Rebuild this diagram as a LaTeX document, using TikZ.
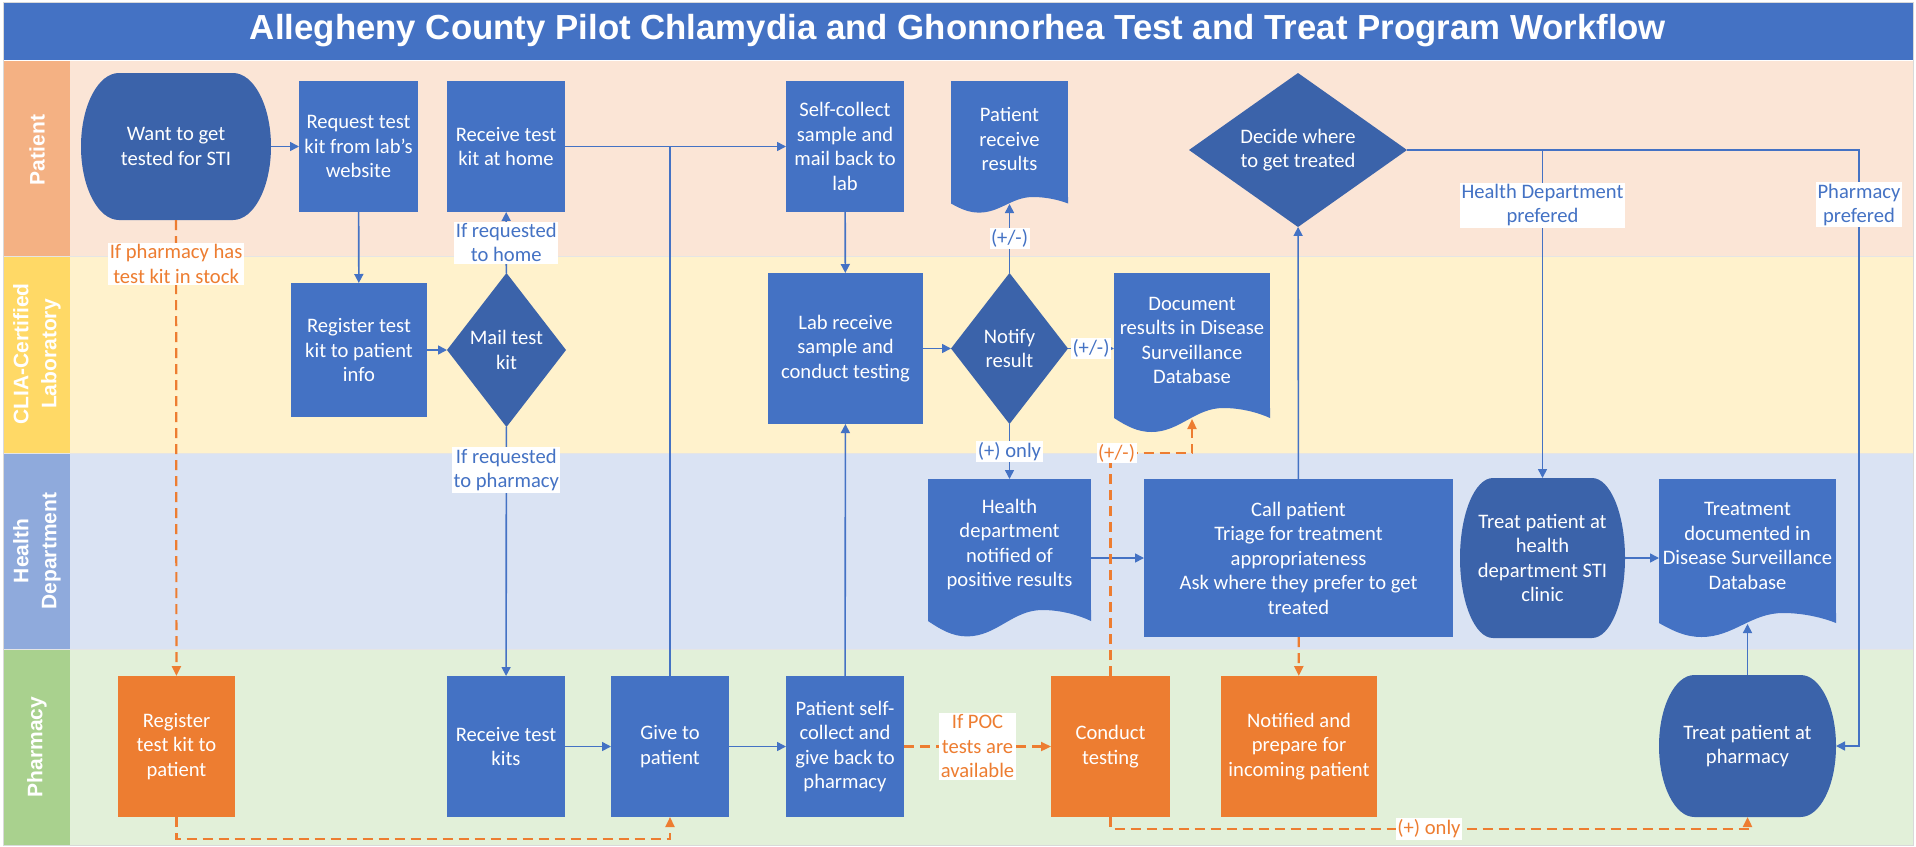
\documentclass[tikz,border=0pt]{standalone}
\usepackage{fontspec}
\setmainfont{Carlito}
\newfontfamily\headfont{Liberation Sans}
\usetikzlibrary{arrows.meta,shapes.geometric,calc}
\definecolor{boxblue}{HTML}{4472C4}
\definecolor{darkblue}{HTML}{3B63AA}
\definecolor{boxorange}{HTML}{ED7D31}
\definecolor{ptlane}{HTML}{FBE5D6}
\definecolor{ptlabel}{HTML}{F4B183}
\definecolor{lablane}{HTML}{FFF2CC}
\definecolor{lablabel}{HTML}{FFD966}
\definecolor{hdlane}{HTML}{DAE3F3}
\definecolor{hdlabel}{HTML}{8FAADC}
\definecolor{phlane}{HTML}{E2F0D9}
\definecolor{phlabel}{HTML}{A9D18E}
\tikzset{
    base/.style = {text=white, align=center, inner sep=0pt, outer sep=0pt,
        font=\fontsize{20.6}{24.5}\selectfont},
    box/.style = {base, rectangle, fill=boxblue},
    obox/.style = {base, rectangle, fill=boxorange},
    decision/.style = {base, diamond, fill=darkblue},
    doc/.style = {base, rectangle, fill=boxblue},
    term/.style = {base, rectangle, path picture={
        \fill[darkblue] let \p1 = (path picture bounding box.south west),
                            \p2 = (path picture bounding box.north east),
                            \n1 = {0.2*(\x2-\x1)}, \n2 = {0.5*(\y2-\y1)} in
            (\x1+\n1,\y2) -- (\x2-\n1,\y2)
            arc[start angle=90, end angle=-90, x radius=\n1*1pt, y radius=\n2*1pt]
            -- (\x1+\n1,\y1)
            arc[start angle=270, end angle=90, x radius=\n1*1pt, y radius=\n2*1pt] -- cycle;}},
    lanetxt/.style = {rotate=90, text=white, align=center,
        font=\headfont\bfseries\fontsize{21}{28}\selectfont},
    flow/.style = {draw=boxblue, line width=1.6pt, -{Triangle[length=9pt,width=9pt]}},
    oflow/.style = {draw=boxorange, line width=2.2pt, dash pattern=on 10pt off 6pt,
        -{Triangle[length=10pt,width=9pt]}},
    lbl/.style = {fill=white, text=boxblue, align=center, inner sep=1.5pt,
        font=\fontsize{20.6}{24.5}\selectfont},
    olbl/.style = {lbl, text=boxorange},
}
% wavy bottom of a document shape, hung under the named node
\newcommand\docwave[2][1]{%
  \fill[boxblue] (#2.south west) -- ($(#2.south west)+(0,{10*#1})$)
    .. controls ($(#2.south west)!0.08!(#2.south east)+(0,{18*#1})$)
    and ($(#2.south west)!0.15!(#2.south east)+(0,{24*#1})$)
    .. ($(#2.south west)!0.24!(#2.south east)+(0,{24*#1})$)
    .. controls ($(#2.south west)!0.42!(#2.south east)+(0,{24*#1})$)
    and ($(#2.south west)!0.52!(#2.south east)$)
    .. ($(#2.south west)!0.7!(#2.south east)$)
    .. controls ($(#2.south west)!0.82!(#2.south east)$)
    and ($(#2.south west)!0.93!(#2.south east)+(0,{5*#1})$)
    .. ($(#2.south east)+(0,{10*#1})$) -- (#2.south east) -- cycle;}
\begin{document}
\begin{tikzpicture}[x=1pt,y=-1pt]
\useasboundingbox (0,0) rectangle (1916,846);
\fill[white] (0,0) rectangle (1916,846);

% title and swimlanes
\fill[boxblue] (3,2) rectangle (1913,60);
\node[text=white, font=\headfont\bfseries\fontsize{34.8}{40}\selectfont] (title) at (958,31)
    {Allegheny County Pilot Chlamydia and Ghonnorhea Test and Treat Program Workflow};
\fill[ptlane] (70,61) rectangle (1913,256);
\fill[ptlabel] (3,61) rectangle (70,256);
\fill[lablane] (70,256) rectangle (1913,453);
\fill[lablabel] (3,256) rectangle (70,453);
\fill[hdlane] (70,453) rectangle (1913,649);
\fill[hdlabel] (3,453) rectangle (70,649);
\fill[phlane] (70,649) rectangle (1913,845);
\fill[phlabel] (3,649) rectangle (70,845);
\foreach \y in {256,453,649}
    \draw[black!10, line width=1pt] (3,\y) -- (1913,\y);
\draw[black!15, line width=0.8pt] (3,2) rectangle (1913,845);
\node[lanetxt] (lanept) at (37,150) {Patient};
\node[lanetxt] (lanelab) at (37,354) {CLIA-Certified\\Laboratory};
\node[lanetxt] (lanehd) at (37,551) {Health\\Department};
\node[lanetxt] (laneph) at (37,747) {Pharmacy};

% patient
\node[term, minimum width=190pt, minimum height=147pt] (want) at (176,146.5) {Want to get\\tested for STI};
\node[box, minimum width=119pt, minimum height=131pt] (request) at (358.5,146.5) {Request test\\kit from lab's\\website};
\node[box, minimum width=118pt, minimum height=131pt] (rechome) at (506,146.5) {Receive test\\kit at home};
\node[box, minimum width=118pt, minimum height=131pt] (selfcol) at (845,146.5) {Self-collect\\sample and\\mail back to\\lab};
\node[doc, minimum width=117pt, minimum height=116pt] (ptres) at (1009.5,139) {Patient\\receive\\results};
\node[decision, shape aspect=1.42, minimum width=218pt, minimum height=154pt] (decide) at (1298,150) {Decide where\\to get treated};

% laboratory
\node[box, minimum width=136pt, minimum height=134pt] (register) at (359,350) {Register test\\kit to patient\\info};
\node[decision, shape aspect=0.77, minimum width=119pt, minimum height=154pt] (mail) at (506.5,350) {Mail test\\kit};
\node[box, minimum width=155pt, minimum height=151pt] (labrec) at (845.5,348.5) {Lab receive\\sample and\\conduct testing};
\node[decision, shape aspect=0.77, minimum width=117pt, minimum height=151pt] (notify) at (1009.5,348.5) {Notify\\result};
\node[doc, minimum width=156pt, minimum height=135pt] (docdb) at (1192,340.5) {Document\\results in Disease\\Surveillance\\Database};

% health department
\node[doc, minimum width=163pt, minimum height=131pt] (hdnote) at (1009.5,544.5) {Health\\department\\notified of\\positive results};
\node[box, minimum width=309pt, minimum height=158pt] (callpt) at (1298.5,558) {Call patient\\Triage for treatment\\appropriateness\\Ask where they prefer to get\\treated};
\node[term, minimum width=165pt, minimum height=160pt] (hdclinic) at (1542.5,558) {Treat patient at\\health\\department STI\\clinic};
\node[doc, minimum width=177pt, minimum height=134pt] (treatdoc) at (1747.5,546) {Treatment\\documented in\\Disease Surveillance\\Database};

% pharmacy
\node[obox, minimum width=117pt, minimum height=141pt] (phreg) at (176.5,746.5) {Register\\test kit to\\patient};
\node[box, minimum width=118pt, minimum height=141pt] (phrec) at (506,746.5) {Receive test\\kits};
\node[box, minimum width=118pt, minimum height=141pt] (give) at (670,746.5) {Give to\\patient};
\node[box, minimum width=118pt, minimum height=141pt] (phself) at (845,746.5) {Patient self-\\collect and\\give back to\\pharmacy};
\node[obox, minimum width=119pt, minimum height=141pt] (conduct) at (1110.5,746.5) {Conduct\\testing};
\node[obox, minimum width=156pt, minimum height=141pt] (prepare) at (1299,746.5) {Notified and\\prepare for\\incoming patient};
\node[term, minimum width=177pt, minimum height=142pt] (treatph) at (1747.5,746) {Treat patient at\\pharmacy};

\docwave[0.65]{ptres}
\docwave{docdb}
\docwave[1.1]{hdnote}
\docwave{treatdoc}

% connectors
\coordinate (rbus) at (1859,150);
\draw[flow] (want) -- (request);
\draw[flow] (request) -- (register);
\draw[flow] (register) -- (mail);
\draw[flow] (mail) -- node[lbl]{If requested\\to home} (rechome);
\draw[flow] (mail) -- node[lbl, pos=0.173]{If requested\\to pharmacy} (phrec);
\draw[flow] (rechome) -- (selfcol);
\draw[flow, -] (give.north) -- (give.north |- selfcol.west);
\draw[flow] (selfcol) -- (labrec);
\draw[flow] (phself) -- (labrec);
\draw[flow] (phrec) -- (give);
\draw[flow] (give) -- (phself);
\draw[flow] (labrec) -- (notify);
\draw[flow] (notify) -- node[lbl]{(+/-)} ($(ptres.south)+(0,7)$);
\draw[flow] (notify.east) -- node[lbl]{(+/-)} (notify.east -| docdb.west);
\draw[flow] (notify) -- node[lbl]{(+) only} (hdnote);
\draw[flow] (callpt.west -| hdnote.east) -- (callpt.west);
\draw[flow] (callpt) -- (decide);
\draw[flow] (decide.east) -| node[lbl, pos=0.584]{Health Department\\prefered} (hdclinic.north);
\draw[flow] (decide.east) -- (rbus) |- node[lbl, pos=0.046]{Pharmacy\\prefered} (treatph.east);
\draw[flow] (hdclinic.east) -- (hdclinic.east -| treatdoc.west);
\draw[flow] (treatph) -- ($(treatdoc.south)+(0,11)$);
\draw[oflow] (want) -- node[olbl, pos=0.096]{If pharmacy has\\test kit in stock} (phreg);
\draw[oflow] (phreg.south) -- ++(0,22) -| (give.south);
\draw[oflow] (phself) -- node[olbl]{If POC\\tests are\\available} (conduct);
\draw[oflow] (conduct.north) -- ++(0,-223) node[olbl, xshift=6pt]{(+/-)} -| ($(docdb.south)+(0,11)$);
\draw[oflow] (conduct.south) -- ++(0,12) -| node[olbl, pos=0.25]{(+) only} (treatph.south);
\draw[oflow] (callpt) -- (prepare);
\end{tikzpicture}
\end{document}
